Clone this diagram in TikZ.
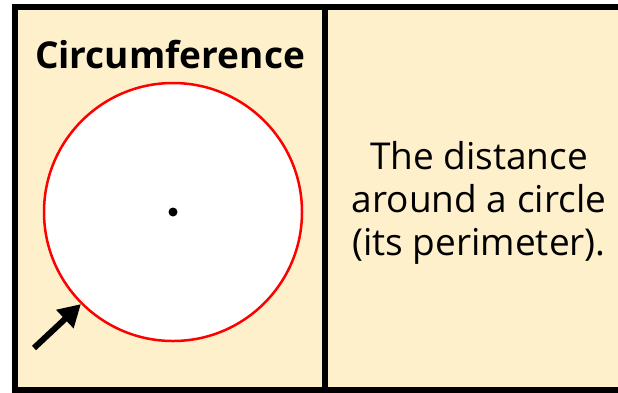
\documentclass[tikz,border=0pt]{standalone}
\usepackage{fontspec}
\setmainfont{Open Sans}
\usepackage{tikz}
\usetikzlibrary{positioning, arrows.meta}
\definecolor{paneyellow}{HTML}{FFF0CC}

\begin{document}
\begin{tikzpicture}[
        x=1pt, y=-1pt,
        frame/.style = {draw=black, line width=6pt, fill=paneyellow},
        title/.style = {font=\fontsize{37}{44}\selectfont\bfseries},
        desc/.style = {align=center, font=\fontsize{37}{43}\selectfont},
        ring/.style = {circle, draw=red, line width=2.5pt, fill=white, minimum size=258pt, inner sep=0pt},
        arrow/.style = {-{Triangle[length=22pt, width=24pt]}, line width=6pt},
    ]
        \useasboundingbox (0,0) rectangle (618,392);
        \draw[frame] (15,7) rectangle (700,390);
        \draw[line width=6pt] (325,7) -- (325,390);
        \node[title] (ttl) at (170,55) {Circumference};
        \node[ring] (circ) at (173,212) {};
        \node[circle, fill=black, inner sep=0pt, minimum size=9pt] (ctr) at (circ.center) {};
        \node[desc] (txt) at (479,203) {The distance\\around a circle\\(its perimeter).};
        \coordinate (tail) at (34,348);
        \draw[arrow] (tail) -- (circ.south west);
    \end{tikzpicture}
\end{document}
